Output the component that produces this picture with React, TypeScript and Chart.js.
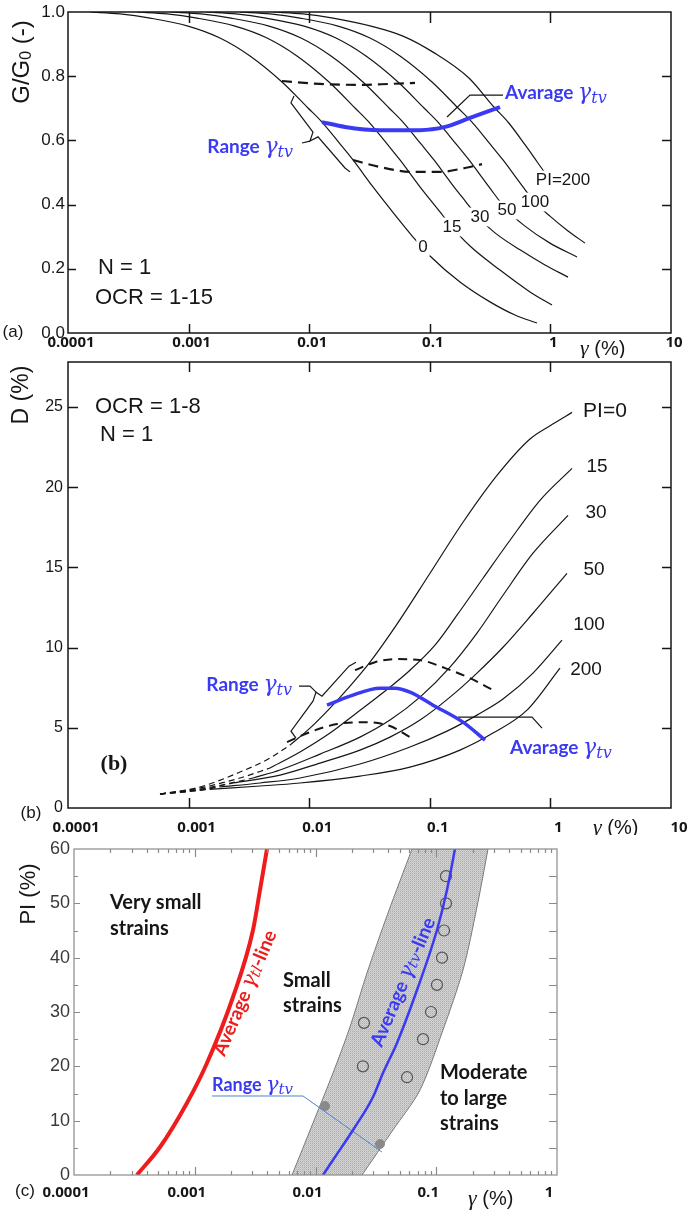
import React, { useEffect, useRef } from "react";
import { Chart, registerables } from "chart.js";
Chart.register(...registerables);

type P = [number, number];

// ---------------- Panel (a): G/G0 vs shear strain ----------------
const A_X_TICKS = [0.0001, 0.001, 0.01, 0.1, 1, 10];
const A_X_LABELS = ["0.0001", "0.001", "0.01", "0.1", "1", "10"];
const A_Y_TICKS = [0, 0.2, 0.4, 0.6, 0.8, 1.0];
const A_Y_LABELS = ["0.0", "0.2", "0.4", "0.6", "0.8", "1.0"];
const A_PI_LABELS = ["0", "15", "30", "50", "100", "PI=200"];

const A_PI0: P[] = [[1.52e-4, 1.0], [2.7e-4, 0.994], [4.79e-4, 0.981], [9.89e-4, 0.956], [1.82e-3, 0.919], [3.23e-3, 0.863], [5.95e-3, 0.782], [9.77e-3, 0.701], [0.01277, 0.657], [0.018, 0.589], [0.02308, 0.539], [0.0338, 0.455], [0.0514, 0.368], [0.0726, 0.299], [0.1004, 0.24], [0.178, 0.159], [0.3156, 0.097], [0.5087, 0.056], [0.774, 0.031]];
const A_PI15: P[] = [[3.73e-4, 1.0], [6.62e-4, 0.994], [1.174e-3, 0.981], [2.425e-3, 0.956], [4.47e-3, 0.919], [7.92e-3, 0.863], [0.01459, 0.782], [0.024, 0.701], [0.0313, 0.657], [0.0442, 0.589], [0.0566, 0.539], [0.0829, 0.455], [0.1215, 0.377], [0.1528, 0.33], [0.2154, 0.271], [0.3821, 0.196], [0.6773, 0.128], [1.031, 0.087]];
const A_PI30: P[] = [[7.14e-4, 1.0], [1.267e-3, 0.994], [2.247e-3, 0.981], [4.64e-3, 0.956], [8.55e-3, 0.919], [0.01517, 0.863], [0.0279, 0.782], [0.0459, 0.701], [0.0599, 0.657], [0.0845, 0.589], [0.1083, 0.539], [0.1587, 0.455], [0.1996, 0.408], [0.251, 0.361], [0.3472, 0.312], [0.5597, 0.259], [0.902, 0.212], [1.4, 0.174]];
const A_PI50: P[] = [[1.394e-3, 1.0], [2.472e-3, 0.994], [4.38e-3, 0.981], [9.06e-3, 0.956], [0.01668, 0.919], [0.02958, 0.863], [0.0545, 0.782], [0.0895, 0.701], [0.1169, 0.657], [0.1649, 0.589], [0.2113, 0.539], [0.3097, 0.455], [0.4366, 0.383], [0.6158, 0.333], [0.992, 0.28], [1.662, 0.237]];
const A_PI100: P[] = [[2.668e-3, 1.0], [4.73e-3, 0.994], [8.39e-3, 0.981], [0.01733, 0.956], [0.0319, 0.919], [0.0566, 0.863], [0.1043, 0.782], [0.1713, 0.701], [0.2238, 0.657], [0.3156, 0.589], [0.4046, 0.539], [0.5927, 0.455], [0.7454, 0.408], [0.992, 0.364], [1.4, 0.318], [1.936, 0.28]];
const A_PI200: P[] = [[5.01e-3, 1.0], [8.88e-3, 0.994], [0.01575, 0.981], [0.03254, 0.956], [0.0599, 0.925], [0.1063, 0.875], [0.21, 0.795], [0.3400, 0.704], [0.4500, 0.655], [0.6200, 0.585], [0.7800, 0.532], [0.992, 0.477]];
const A_UPPER_DASH: P[] = [[5.95e-3, 0.785], [0.01229, 0.776], [0.02637, 0.773], [0.0468, 0.776], [0.0754, 0.779]];
const A_LOWER_DASH: P[] = [[0.02308, 0.539], [0.0387, 0.517], [0.0726, 0.502], [0.1215, 0.502], [0.1958, 0.514], [0.2709, 0.526]];
const A_AVG: P[] = [[0.01277, 0.657], [0.0198, 0.642], [0.0387, 0.632], [0.0829, 0.632], [0.1337, 0.642], [0.2154, 0.67], [0.3821, 0.704]];
const A_BRACKET: P[] = [[7.48e-3, 0.738], [7.06e-3, 0.717], [0.01075, 0.626], [0.01015, 0.598], [0.01183, 0.611], [0.0198, 0.514], [0.0218, 0.502]];
const A_BRACKET_PTR: P[] = [[8.71e-3, 0.592], [0.01015, 0.598]];
const A_AVG_PTR: P[] = [[0.1389, 0.673], [0.2154, 0.741], [0.4046, 0.741]];

// ---------------- Panel (b): damping vs shear strain ----------------
const B_X_TICKS = [0.0001, 0.001, 0.01, 0.1, 1, 10];
const B_X_LABELS = ["0.0001", "0.001", "0.01", "0.1", "1", "10"];
const B_Y_TICKS = [0, 5, 10, 15, 20, 25];
const B_Y_LABELS = ["0", "5", "10", "15", "20", "25"];
const B_PI_LABELS = ["PI=0", "15", "30", "50", "100", "200"];

const B_PI0_DASH: P[] = [[5.79e-4, 0.87], [1.243e-3, 1.31], [2.668e-3, 2.24], [4.73e-3, 3.11], [6.93e-3, 3.92]];
const B_PI0: P[] = [[6.93e-3, 3.92], [0.01015, 4.98], [0.01488, 6.23], [0.0218, 7.6], [0.03192, 9.09], [0.05346, 11.46], [0.1004, 14.63], [0.1885, 17.81], [0.3607, 20.73], [0.6773, 23.0], [1.031, 23.9], [1.511, 24.66]];
const B_PI15_DASH: P[] = [[5.79e-4, 0.87], [1.243e-3, 1.25], [2.668e-3, 1.87], [4.73e-3, 2.49]];
const B_PI15: P[] = [[4.73e-3, 2.49], [8.39e-3, 3.49], [0.01488, 4.67], [0.02398, 5.85], [0.03865, 7.04], [0.06852, 8.59], [0.1104, 10.15], [0.1681, 12.02], [0.2761, 14.32], [0.4624, 16.69], [0.82, 19.18], [1.511, 21.17]];
const B_PI30_DASH: P[] = [[5.79e-4, 0.87], [1.243e-3, 1.18], [2.668e-3, 1.68], [3.42e-3, 1.87]];
const B_PI30: P[] = [[3.42e-3, 1.87], [5.73e-3, 2.37], [0.01229, 3.36], [0.02637, 4.42], [0.04677, 5.48], [0.08294, 6.91], [0.1471, 8.78], [0.2462, 10.9], [0.4046, 13.26], [0.7174, 15.88], [1.4, 18.24]];
const B_PI50_DASH: P[] = [[5.79e-4, 0.87], [1.243e-3, 1.12], [2.335e-3, 1.56]];
const B_PI50: P[] = [[2.335e-3, 1.56], [5.73e-3, 2.05], [0.01229, 2.8], [0.02637, 3.61], [0.04677, 4.42], [0.08294, 5.48], [0.1471, 6.91], [0.2462, 8.41], [0.4046, 10.02], [0.7174, 12.14], [1.373, 14.63]];
const B_PI100_DASH: P[] = [[5.79e-4, 0.87], [1.243e-3, 1.12], [1.821e-3, 1.31]];
const B_PI100: P[] = [[1.821e-3, 1.31], [3.908e-3, 1.56], [8.39e-3, 1.87], [0.02637, 2.74], [0.06852, 3.8], [0.1389, 4.79], [0.2462, 5.79], [0.4046, 6.79], [0.7174, 8.41], [1.248, 10.46]];
const B_PI200_DASH: P[] = [[5.79e-4, 0.87], [1.243e-3, 1.12], [1.593e-3, 1.18]];
const B_PI200: P[] = [[1.593e-3, 1.18], [3.908e-3, 1.37], [8.39e-3, 1.56], [0.02637, 1.99], [0.06852, 2.55], [0.178, 3.61], [0.3342, 4.67], [0.6397, 6.1], [1.201, 8.72]];
const B_UPPER_DASH: P[] = [[0.02398, 8.59], [0.03512, 9.09], [0.05346, 9.28], [0.08294, 9.22], [0.1337, 8.72], [0.2154, 8.09], [0.3342, 7.35]];
const B_LOWER_DASH: P[] = [[6.55e-3, 4.11], [0.01015, 4.73], [0.017, 5.23], [0.02793, 5.35], [0.04677, 5.11], [0.06852, 4.42]];
const B_AVG: P[] = [[0.01405, 6.41], [0.0218, 6.97], [0.03865, 7.47], [0.05144, 7.47], [0.06852, 7.22], [0.1063, 6.41], [0.1885, 5.35], [0.2869, 4.23]];
const B_AVG_PTR: P[] = [[0.1713, 5.67], [0.7037, 5.67], [0.852, 4.98]];
const B_BRACKET: P[] = [[7.77e-3, 4.36], [7.06e-3, 4.79], [0.01075, 6.66], [0.01139, 7.22], [0.01277, 6.97], [0.02138, 8.84], [0.02443, 9.09]];
const B_BRACKET_PTR: P[] = [[8.23e-3, 7.6], [0.01015, 7.6], [0.01139, 7.22]];

// ---------------- Panel (c): PI vs threshold strain ----------------
const C_X_TICKS = [0.0001, 0.001, 0.01, 0.1, 1];
const C_X_LABELS = ["0.0001", "0.001", "0.01", "0.1", "1"];
const C_X_MINOR = [2e-4, 3e-4, 4e-4, 5e-4, 6e-4, 7e-4, 8e-4, 9e-4, 2e-3, 3e-3, 4e-3, 5e-3, 6e-3, 7e-3, 8e-3, 9e-3, 0.02, 0.03, 0.04, 0.05, 0.06, 0.07, 0.08, 0.09, 0.2, 0.3, 0.4, 0.5, 0.6, 0.7, 0.8, 0.9];
const C_Y_TICKS = [0, 10, 20, 30, 40, 50, 60];
const C_Y_LABELS = ["0", "10", "20", "30", "40", "50", "60"];
const C_Y_MINOR = [5, 15, 25, 35, 45, 55];

const C_BAND_LEFT: P[] = [[6.39e-3, 0], [9.53e-3, 9.57], [0.01396, 18.77], [0.0193, 27.24], [0.0267, 37.18], [0.03985, 48.22], [0.063, 60]];
const C_BAND_RIGHT: P[] = [[0.02428, 0], [0.0438, 8.28], [0.0733, 15.64], [0.1137, 26.69], [0.1665, 37.73], [0.2175, 49.33], [0.2683, 60]];
const C_RED: P[] = [[3.32e-4, 0], [5.16e-4, 5.15], [8.62e-4, 13.25], [1.263e-3, 20.61], [2.074e-3, 32.76], [3.038e-3, 45.09], [3.47e-3, 52.45], [3.966e-3, 60]];
const C_BLUE: P[] = [[0.01154, 0], [0.01396, 2.76], [0.02045, 8.28], [0.02994, 14.36], [0.03622, 18.77], [0.0473, 24.3], [0.0693, 34.05], [0.1014, 45.09], [0.1227, 52.46], [0.143, 60]];
const C_OPEN: P[] = [[0.1204, 55], [0.1204, 50], [0.116, 45], [0.1116, 40], [0.1014, 35], [0.0905, 30], [0.0777, 25], [0.0573, 18], [0.0247, 20], [0.0252, 28]];
const C_FILLED: P[] = [[0.012, 12.7], [0.0342, 5.7]];
const C_PTR: P[] = [[1.39e-3, 14.54], [7.88e-3, 14.54], [0.03554, 4.23]];

// ---------------- styling ----------------
const SANS = '"Liberation Sans", Arial, sans-serif';
const CAL = 'Lato, "Open Sans", sans-serif';
const SERIF = '"Liberation Serif", "DejaVu Serif", serif';
const MATH = '"DejaVu Serif", "Liberation Serif", serif';
const BOLDNUM = { family: '"Open Sans", sans-serif', weight: "bold" as const, size: 15 };
const BLUE = "#3a3af2";
const RED = "#ee1c1c";
const INK = "#161616";

type Part = { t: string; f: string; dy?: number; c?: string };
type TextItem = { x: number; y: number; parts: Part[]; c?: string; align?: "left" | "center" | "right"; rot?: number; mid?: boolean; bg?: string };

const gam = (size: number, sub: string): Part[] => [
  { t: "γ", f: `italic ${size}px ${MATH}` },
  { t: sub, f: `italic ${Math.round(size * 0.72)}px ${MATH}`, dy: Math.round(size * 0.16) },
];

function drawItem(ctx: CanvasRenderingContext2D, it: TextItem, top: number) {
  ctx.save();
  ctx.translate(it.x, it.y - top);
  if (it.rot) ctx.rotate((it.rot * Math.PI) / 180);
  ctx.textBaseline = it.mid ? "middle" : "alphabetic";
  ctx.textAlign = "left";
  const widths = it.parts.map((p) => {
    ctx.font = p.f;
    return ctx.measureText(p.t).width;
  });
  const total = widths.reduce((a, b) => a + b, 0);
  let x = it.align === "center" ? -total / 2 : it.align === "right" ? -total : 0;
  if (it.bg) {
    const m = it.parts[0].f.match(/(\d+)px/);
    const h = m ? parseInt(m[1], 10) : 16;
    ctx.fillStyle = it.bg;
    ctx.fillRect(x - 2, it.mid ? -h * 0.55 : -h * 0.85, total + 4, h * 1.1);
  }
  it.parts.forEach((p, i) => {
    ctx.font = p.f;
    ctx.fillStyle = p.c || it.c || INK;
    ctx.fillText(p.t, x, p.dy || 0);
    x += widths[i];
  });
  ctx.restore();
}

function textPlugin(items: TextItem[], top: number) {
  return {
    id: "texts",
    afterDraw(chart: any) {
      for (const it of items) drawItem(chart.ctx, it, top);
    },
  };
}

type FrameCfg = {
  color: string; width: number;
  xMajor: number[]; xMinor?: number[]; yMajor: number[]; yMinor?: number[];
  top: number; bottom: number; left: number; right: number; minor?: number;
};

function framePlugin(f: FrameCfg) {
  return {
    id: "frame",
    afterDatasetsDraw(chart: any) {
      const { ctx, chartArea: a, scales } = chart;
      const xs = scales.x, ys = scales.y;
      ctx.save();
      ctx.strokeStyle = f.color;
      ctx.lineWidth = f.width;
      ctx.beginPath();
      const xt = (v: number, lt: number, lb: number) => {
        const px = Math.round(xs.getPixelForValue(v)) + 0.5;
        if (px <= a.left + 1 || px >= a.right - 1) return;
        ctx.moveTo(px, a.bottom); ctx.lineTo(px, a.bottom - lb);
        ctx.moveTo(px, a.top); ctx.lineTo(px, a.top + lt);
      };
      const yt = (v: number, ll: number, lr: number) => {
        const py = Math.round(ys.getPixelForValue(v)) + 0.5;
        if (py <= a.top + 1 || py >= a.bottom - 1) return;
        ctx.moveTo(a.left, py); ctx.lineTo(a.left + ll, py);
        ctx.moveTo(a.right, py); ctx.lineTo(a.right - lr, py);
      };
      f.xMajor.forEach((v) => xt(v, f.top, f.bottom));
      (f.xMinor || []).forEach((v) => xt(v, f.minor || 4, f.minor || 4));
      f.yMajor.forEach((v) => yt(v, f.left, f.right));
      (f.yMinor || []).forEach((v) => yt(v, f.minor || 4, f.right));
      ctx.stroke();
      ctx.strokeRect(a.left, a.top, a.right - a.left, a.bottom - a.top);
      ctx.restore();
    },
  };
}

const line = (pts: P[], color = INK, width = 1.2, dash: number[] = [], tension = 0.4, extra: any = {}) => ({
  data: pts.map(([x, y]) => ({ x, y })),
  borderColor: color,
  borderWidth: width,
  borderDash: dash,
  pointRadius: 0,
  fill: false,
  tension,
  cubicInterpolationMode: tension > 0 ? "monotone" : "default",
  ...extra,
});

function logX(min: number, max: number, ticks: number[], labels: string[], height: number, padding: number, labelOffset: number) {
  return {
    type: "logarithmic",
    min,
    max,
    grid: { display: false, drawTicks: false },
    border: { display: false },
    ticks: { autoSkip: false, maxRotation: 0, minRotation: 0, padding, labelOffset, font: BOLDNUM, color: INK, callback: (_v: any, i: number) => labels[i] },
    afterBuildTicks: (s: any) => { s.ticks = ticks.map((v) => ({ value: v })); },
    afterFit: (s: any) => { s.height = height; s.paddingLeft = 0; s.paddingRight = 0; },
  };
}

function linY(min: number, max: number, ticks: number[], labels: string[], width: number, padding: number, size: number, color: string) {
  return {
    type: "linear",
    min,
    max,
    grid: { display: false, drawTicks: false },
    border: { display: false },
    ticks: { autoSkip: false, padding, font: { family: SANS, size }, color, callback: (_v: any, i: number) => labels[i] },
    afterBuildTicks: (s: any) => { s.ticks = ticks.map((v) => ({ value: v })); },
    afterFit: (s: any) => { s.width = width; s.paddingTop = 0; s.paddingBottom = 0; },
  };
}

const baseOptions = (padding: any, x: any, y: any) => ({
  responsive: false,
  animation: false,
  devicePixelRatio: 1,
  layout: { padding },
  plugins: { legend: { display: false }, tooltip: { enabled: false } },
  elements: { point: { radius: 0 } },
  scales: { x, y },
});

// ---------------- panel configs ----------------
const A_TOP = 0, A_H = 358;
const A_LABEL_POS: P[] = [[423, 247], [452, 227], [480, 217], [507, 210], [535, 202], [563, 180]];

function makeA() {
  const texts: TextItem[] = [
    { x: 98, y: 274, parts: [{ t: "N = 1", f: `22px ${SANS}` }] },
    { x: 95, y: 304, parts: [{ t: "OCR = 1-15", f: `22px ${SANS}` }] },
    { x: 293, y: 153, align: "right", c: BLUE, parts: [{ t: "Range ", f: `bold 19px ${CAL}` }, ...gam(22, "tv")] },
    { x: 505, y: 99, c: BLUE, parts: [{ t: "Avarage ", f: `bold 19px ${CAL}` }, ...gam(22, "tv")] },
    ...A_PI_LABELS.map((t, i) => ({ x: A_LABEL_POS[i][0], y: A_LABEL_POS[i][1], mid: true, align: "center" as const, bg: "#fff", parts: [{ t, f: `17px ${SANS}` }] })),
    { x: 13, y: 332, mid: true, align: "center", parts: [{ t: "(a)", f: `17px ${SANS}` }] },
    { x: 580, y: 355, parts: [{ t: "γ", f: `italic 22px ${SERIF}` }, { t: " (%)", f: `20px ${SANS}` }] },
    { x: 22, y: 62, rot: -90, mid: true, align: "center", parts: [{ t: "G/G", f: `24px ${SANS}` }, { t: "0", f: `16px ${SANS}`, dy: 5 }, { t: " (-)", f: `24px ${SANS}` }] },
  ];
  return {
    type: "line",
    data: {
      datasets: [
        line(A_AVG, BLUE, 4),
        line(A_UPPER_DASH, INK, 2.2, [10, 6]),
        line(A_LOWER_DASH, INK, 2.2, [10, 6]),
        line(A_PI0), line(A_PI15), line(A_PI30), line(A_PI50), line(A_PI100), line(A_PI200),
        line(A_BRACKET, INK, 1.2, [], 0),
        line(A_BRACKET_PTR, INK, 1.2, [], 0),
        line(A_AVG_PTR, INK, 1.2, [], 0),
      ],
    },
    options: baseOptions(
      { left: 0, right: 20, top: 12, bottom: 0 },
      logX(1e-4, 10, A_X_TICKS, A_X_LABELS, A_H - 333, 1, 3),
      linY(0, 1, A_Y_TICKS, A_Y_LABELS, 68, 3, 17, INK)
    ),
    plugins: [
      framePlugin({ color: INK, width: 1.5, xMajor: A_X_TICKS, yMajor: A_Y_TICKS, top: 11, bottom: 9, left: 8, right: 9 }),
      textPlugin(texts, A_TOP),
    ],
  };
}

const B_TOP = 358, B_H = 477;
const B_LABEL_POS: P[] = [[605, 411], [597, 467], [596, 513], [594, 570], [589, 625], [586, 670]];

function makeB() {
  const texts: TextItem[] = [
    { x: 95, y: 413, parts: [{ t: "OCR = 1-8", f: `22px ${SANS}` }] },
    { x: 100, y: 441, parts: [{ t: "N = 1", f: `22px ${SANS}` }] },
    { x: 114, y: 770, align: "center", parts: [{ t: "(b)", f: `bold 22px ${SERIF}` }] },
    { x: 292, y: 691, align: "right", c: BLUE, parts: [{ t: "Range ", f: `bold 19px ${CAL}` }, ...gam(22, "tv")] },
    { x: 510, y: 754, c: BLUE, parts: [{ t: "Avarage ", f: `bold 19px ${CAL}` }, ...gam(22, "tv")] },
    ...B_PI_LABELS.map((t, i) => ({ x: B_LABEL_POS[i][0], y: B_LABEL_POS[i][1], mid: true, align: "center" as const, parts: [{ t, f: `${i === 0 ? 21 : 19}px ${SANS}` }] })),
    { x: 31, y: 813, mid: true, align: "center", parts: [{ t: "(b)", f: `17px ${SANS}` }] },
    { x: 593, y: 834, parts: [{ t: "γ", f: `italic 22px ${SERIF}` }, { t: " (%)", f: `20px ${SANS}` }] },
    { x: 22, y: 395, rot: -90, mid: true, align: "center", parts: [{ t: "D (%)", f: `23px ${SANS}` }] },
  ];
  const dash = (p: P[]) => line(p, INK, 1.2, [6, 4]);
  return {
    type: "line",
    data: {
      datasets: [
        line(B_AVG, BLUE, 3.5),
        line(B_UPPER_DASH, INK, 2, [9, 6]),
        line(B_LOWER_DASH, INK, 2, [9, 6]),
        line(B_PI0), line(B_PI15), line(B_PI30), line(B_PI50), line(B_PI100), line(B_PI200),
        dash(B_PI0_DASH), dash(B_PI15_DASH), dash(B_PI30_DASH), dash(B_PI50_DASH), dash(B_PI100_DASH), dash(B_PI200_DASH),
        line(B_BRACKET, INK, 1.2, [], 0),
        line(B_BRACKET_PTR, INK, 1.2, [], 0),
        line(B_AVG_PTR, INK, 1.2, [], 0),
      ],
    },
    options: baseOptions(
      { left: 0, right: 20, top: 362 - B_TOP, bottom: 0 },
      logX(1e-4, 10, B_X_TICKS, B_X_LABELS, B_TOP + B_H - 808, 11, 8),
      linY(0, 27.8, B_Y_TICKS, B_Y_LABELS, 68, 5, 16, INK)
    ),
    plugins: [
      framePlugin({ color: INK, width: 1.5, xMajor: B_X_TICKS, yMajor: B_Y_TICKS, top: 10, bottom: 10, left: 10, right: 9 }),
      textPlugin(texts, B_TOP),
    ],
  };
}

const C_TOP = 835, C_H = 381;

function bandPattern() {
  const c = document.createElement("canvas");
  c.width = 2; c.height = 2;
  const g = c.getContext("2d")!;
  g.fillStyle = "#d4d4d4"; g.fillRect(0, 0, 2, 2);
  g.fillStyle = "#aaaaaa"; g.fillRect(0, 0, 1, 1);
  g.fillStyle = "#c2c2c2"; g.fillRect(1, 1, 1, 1);
  return g.createPattern(c, "repeat") || "#c6c6c6";
}

function makeC() {
  const texts: TextItem[] = [
    { x: 110, y: 909, parts: [{ t: "Very small", f: `bold 20px ${CAL}` }] },
    { x: 110, y: 935, parts: [{ t: "strains", f: `bold 20px ${CAL}` }] },
    { x: 283, y: 987, parts: [{ t: "Small", f: `bold 20px ${CAL}` }] },
    { x: 283, y: 1012, parts: [{ t: "strains", f: `bold 20px ${CAL}` }] },
    { x: 440, y: 1079, parts: [{ t: "Moderate", f: `bold 20px ${CAL}` }] },
    { x: 440, y: 1105, parts: [{ t: "to large", f: `bold 20px ${CAL}` }] },
    { x: 440, y: 1130, parts: [{ t: "strains", f: `bold 20px ${CAL}` }] },
    { x: 245, y: 993, rot: -67, mid: true, align: "center", c: RED, parts: [{ t: "Average ", f: `bold 19px ${CAL}` }, ...gam(21, "tl"), { t: "-line", f: `bold 19px ${CAL}` }] },
    { x: 403, y: 982, rot: -67, mid: true, align: "center", c: BLUE, parts: [{ t: "Average ", f: `bold 19px ${CAL}` }, ...gam(21, "tv"), { t: "-line", f: `bold 19px ${CAL}` }] },
    { x: 212, y: 1091, c: BLUE, parts: [{ t: "Range ", f: `bold 18px ${CAL}` }, ...gam(21, "tv")] },
    { x: 25, y: 1191, mid: true, align: "center", parts: [{ t: "(c)", f: `17px ${SANS}` }] },
    { x: 468, y: 1205, parts: [{ t: "γ", f: `italic 22px ${SERIF}` }, { t: " (%)", f: `20px ${SANS}` }] },
    { x: 29, y: 894, rot: -90, mid: true, align: "center", parts: [{ t: "PI (%)", f: `22px ${SANS}` }] },
  ];
  // closed band outline: left edge upward, right edge downward; corner points doubled so they stay sharp
  const L = C_BAND_LEFT, R = [...C_BAND_RIGHT].reverse();
  const band: P[] = [L[0], ...L, L[L.length - 1], R[0], ...R, R[R.length - 1]];
  return {
    type: "line",
    data: {
      datasets: [
        line(C_RED, RED, 4),
        line(C_BLUE, BLUE, 2.5),
        line(C_PTR, "#4f86c6", 1, [], 0),
        { data: C_OPEN.map(([x, y]) => ({ x, y })), showLine: false, pointRadius: 5.5, pointBackgroundColor: "rgba(0,0,0,0)", pointBorderColor: "#555", pointBorderWidth: 1.2 },
        { data: C_FILLED.map(([x, y]) => ({ x, y })), showLine: false, pointRadius: 4.5, pointBackgroundColor: "#8a8a8a", pointBorderColor: "#8a8a8a", pointBorderWidth: 1 },
        { ...line(band, "#7a7a7a", 1, [], 0.3), fill: "shape", backgroundColor: bandPattern(), cubicInterpolationMode: "default" },
      ],
    },
    options: baseOptions(
      { left: 0, right: 691 - 557, top: 849 - C_TOP, bottom: 0 },
      logX(1e-4, 1, C_X_TICKS, C_X_LABELS, C_TOP + C_H - 1175, 9, -8),
      linY(0, 60, C_Y_TICKS, C_Y_LABELS, 74, 4, 18, "#3a3a3a")
    ),
    plugins: [
      framePlugin({ color: "#8a8a8a", width: 1.2, xMajor: C_X_TICKS, xMinor: C_X_MINOR, yMajor: C_Y_TICKS, yMinor: C_Y_MINOR, top: 8, bottom: 8, left: 6, right: 8, minor: 4 }),
      textPlugin(texts, C_TOP),
    ],
  };
}

function Panel({ top, height, make }: { top: number; height: number; make: () => any }) {
  const ref = useRef<HTMLCanvasElement>(null);
  useEffect(() => {
    const chart = new Chart(ref.current as HTMLCanvasElement, make());
    return () => chart.destroy();
  }, []);
  return <canvas ref={ref} width={691} height={height} style={{ position: "absolute", left: 0, top, width: 691, height, display: "block" }} />;
}

export default function App() {
  return (
    <div style={{ position: "absolute", left: 0, top: 0, width: 691, height: 1216, background: "#fff", overflow: "hidden" }}>
      <Panel top={A_TOP} height={A_H} make={makeA} />
      <Panel top={B_TOP} height={B_H} make={makeB} />
      <Panel top={C_TOP} height={C_H} make={makeC} />
    </div>
  );
}
